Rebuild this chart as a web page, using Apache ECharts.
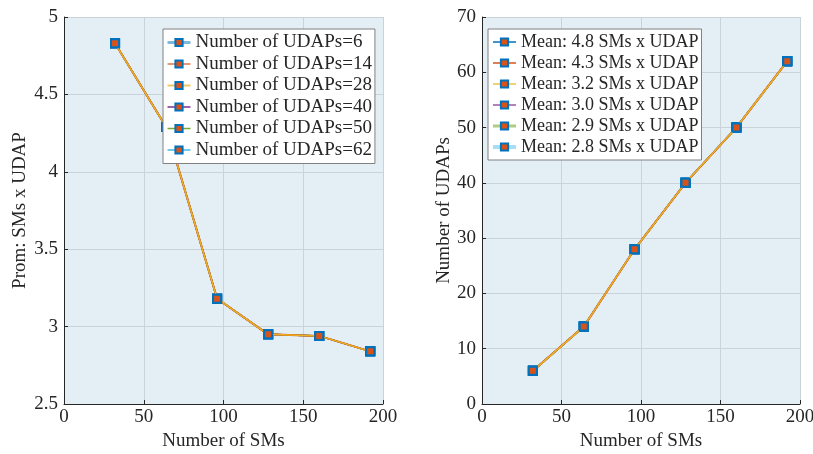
<!DOCTYPE html>
<html>
<head>
<meta charset="utf-8">
<script src="https://cdn.jsdelivr.net/npm/echarts@6/dist/echarts.min.js"></script>
<style>
html,body{margin:0;padding:0;background:#fff;}
#main{width:813px;height:454px;}
</style>
</head>
<body>
<div id="main"></div>
<script>
// data
var smCounts = [32, 64, 96, 128, 160, 192];
var meanSMsPerUDAP = [4.83, 4.29, 3.18, 2.95, 2.94, 2.84];
var udapCounts = [6, 14, 28, 40, 50, 62];
var leftNames = ['Number of UDAPs=6', 'Number of UDAPs=14', 'Number of UDAPs=28',
                 'Number of UDAPs=40', 'Number of UDAPs=50', 'Number of UDAPs=62'];
var rightNames = ['Mean: 4.8 SMs x UDAP', 'Mean: 4.3 SMs x UDAP', 'Mean: 3.2 SMs x UDAP',
                  'Mean: 3.0 SMs x UDAP', 'Mean: 2.9 SMs x UDAP', 'Mean: 2.8 SMs x UDAP'];

var FONT = 'Liberation Serif';
var FS = 19;
var TXT = '#262626';
var lineColors = ['#0072BD', '#D95319', '#EDB120', '#7E2F8E', '#77AC30', '#4DBEEE'];
var leftLegendLines = [
  {color: 'rgba(0,114,189,0.5)', width: 3},
  {color: 'rgba(217,83,25,0.6)', width: 2},
  {color: 'rgba(237,177,32,0.7)', width: 2},
  {color: '#7E2F8E', width: 1.5},
  {color: '#77AC30', width: 1.5},
  {color: 'rgba(77,190,238,0.8)', width: 2}
];
var rightLegendLines = [
  {color: '#0072BD', width: 1.5},
  {color: '#D95319', width: 1.5},
  {color: 'rgba(237,177,32,0.6)', width: 2},
  {color: 'rgba(126,47,142,0.6)', width: 2},
  {color: 'rgba(119,172,48,0.6)', width: 3},
  {color: 'rgba(77,190,238,0.5)', width: 4}
];
// draw order: yellow on top of orange so the visible line is gold
var zOrder = [2, 5, 6, 1, 1, 3];
var lineWidths = [1.5, 2, 1.5, 1.5, 1.5, 1.5];

function makeAxisX(gi) {
  return {
    gridIndex: gi, type: 'value', min: 0, max: 200, interval: 50,
    name: 'Number of SMs', nameLocation: 'middle', nameGap: 27,
    nameTextStyle: {fontFamily: FONT, fontSize: FS, color: TXT},
    axisLine: {show: true, lineStyle: {color: '#262626', width: 1}},
    axisTick: {show: true, inside: true, length: 4, lineStyle: {color: '#262626'}},
    axisLabel: {fontFamily: FONT, fontSize: FS, color: TXT, margin: 4},
    splitLine: {show: true, lineStyle: {color: '#c9d3d8', width: 1}}
  };
}
function makeAxisY(gi, min, max, interval, name, gap) {
  return {
    gridIndex: gi, type: 'value', min: min, max: max, interval: interval,
    name: name, nameLocation: 'middle', nameGap: gap,
    nameTextStyle: {fontFamily: FONT, fontSize: FS, color: TXT},
    axisLine: {show: true, lineStyle: {color: '#262626', width: 1}},
    axisTick: {show: true, inside: true, length: 4, lineStyle: {color: '#262626'}},
    axisLabel: {fontFamily: FONT, fontSize: FS, color: TXT, margin: 6},
    splitLine: {show: true, lineStyle: {color: '#c9d3d8', width: 1}}
  };
}
function makeLegend(names, lines, left, top, fs, gap) {
  return {
    orient: 'vertical', left: left, top: top, z: 20,
    data: names.map(function (n, i) {
      return {name: n, lineStyle: lines[i]};
    }),
    itemWidth: 23, itemHeight: 9, itemGap: gap,
    padding: [4, 3, 4, 3],
    backgroundColor: '#fff', borderColor: '#808080', borderWidth: 1, borderRadius: 0,
    textStyle: {fontFamily: FONT, fontSize: fs, color: TXT},
    selectedMode: false
  };
}

var series = [];
leftNames.forEach(function (n, i) {
  series.push({
    name: n, type: 'line', xAxisIndex: 0, yAxisIndex: 0, z: zOrder[i],
    data: smCounts.map(function (x, k) { return [x, meanSMsPerUDAP[k]]; }),
    symbol: 'rect', symbolSize: 8,
    lineStyle: {color: lineColors[i], width: lineWidths[i]},
    itemStyle: {color: '#D95319', borderColor: '#0072BD', borderWidth: 2},
    animation: false
  });
});
rightNames.forEach(function (n, i) {
  series.push({
    name: n, type: 'line', xAxisIndex: 1, yAxisIndex: 1, z: zOrder[i],
    data: smCounts.map(function (x, k) { return [x, udapCounts[k]]; }),
    symbol: 'rect', symbolSize: 8,
    lineStyle: {color: lineColors[i], width: lineWidths[i]},
    itemStyle: {color: '#D95319', borderColor: '#0072BD', borderWidth: 2},
    animation: false
  });
});

var myChart = echarts.init(document.getElementById('main'));
var option = {
  backgroundColor: '#fff',
  animation: false,
  grid: [
    {left: 64, right: 430, top: 17, bottom: 50, show: true, backgroundColor: '#e3eff5', borderWidth: 0, outerBoundsMode: 'none'},
    {left: 482, right: 13, top: 17, bottom: 50, show: true, backgroundColor: '#e3eff5', borderWidth: 0, outerBoundsMode: 'none'}
  ],
  xAxis: [makeAxisX(0), makeAxisX(1)],
  yAxis: [
    makeAxisY(0, 2.5, 5, 0.5, 'Prom: SMs x UDAP', 34),
    makeAxisY(1, 0, 70, 10, 'Number of UDAPs', 28)
  ],
  legend: [
    makeLegend(leftNames, leftLegendLines, 163, 29, 19, 2.5),
    makeLegend(rightNames, rightLegendLines, 488, 29, 18, 3)
  ],
  series: series
};
myChart.setOption(option, true);
</script>
</body>
</html>
